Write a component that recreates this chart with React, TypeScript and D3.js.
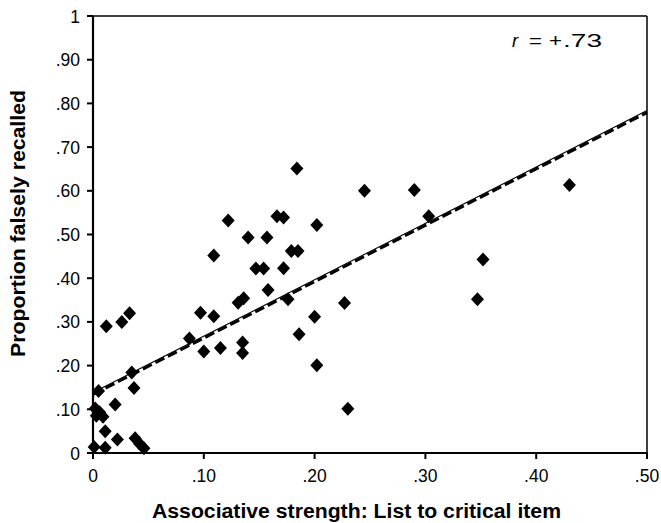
import React from "react";
import * as d3 from "d3";

const strength = [
  0.012, 0.026, 0.033, 0.097, 0.087, 0.1, 0.035, 0.037, 0.005, 0.02, 0.002,
  0.003, 0.009, 0.006, 0.011, 0.022, 0.038, 0.042, 0.046, 0.001, 0.011, 0.109,
  0.115, 0.131, 0.136, 0.135, 0.135, 0.158, 0.122, 0.14, 0.157, 0.109, 0.147,
  0.154, 0.166, 0.172, 0.184, 0.245, 0.202, 0.179, 0.185, 0.172, 0.176, 0.227,
  0.2, 0.186, 0.202, 0.23, 0.29, 0.303, 0.43, 0.352, 0.347,
];
const falseRecall = [
  0.29, 0.3, 0.32, 0.321, 0.262, 0.232, 0.184, 0.149, 0.142, 0.111, 0.102,
  0.085, 0.083, 0.093, 0.05, 0.031, 0.034, 0.021, 0.011, 0.014, 0.012, 0.313,
  0.24, 0.344, 0.354, 0.253, 0.229, 0.373, 0.532, 0.493, 0.493, 0.452, 0.422,
  0.422, 0.542, 0.539, 0.651, 0.6, 0.522, 0.462, 0.462, 0.423, 0.352, 0.343,
  0.312, 0.272, 0.201, 0.101, 0.602, 0.542, 0.613, 0.443, 0.352,
];
const xTicks = [0, 0.1, 0.2, 0.3, 0.4, 0.5];
const xTickLabels = ["0", ".10", ".20", ".30", ".40", ".50"];
const yTicks = [0, 0.1, 0.2, 0.3, 0.4, 0.5, 0.6, 0.7, 0.8, 0.9, 1];
const yTickLabels = ["0", ".10", ".20", ".30", ".40", ".50", ".60", ".70", ".80", ".90", "1"];
const fitIntercept = 0.134;
const fitSlope = 1.29;
const fitDomain = [0, 0.5];

const W = 661;
const H = 523;
const left = 93;
const right = 647;
const top = 16;
const bottom = 453;
const font = "'Liberation Sans', Arial, sans-serif";

export default function App() {
  const x = d3.scaleLinear().domain([0, 0.5]).range([left, right]);
  const y = d3.scaleLinear().domain([0, 1]).range([bottom, top]);
  const fitPts: [number, number][] = fitDomain.map((v) => [x(v), y(fitIntercept + fitSlope * v)]);
  const line = d3.line();
  const fitPath = line(fitPts) || "";
  const solidPath = line(fitPts.map(([a, b]) => [a, b - 2] as [number, number])) || "";

  return (
    <svg
      width={W}
      height={H}
      style={{ position: "absolute", left: 0, top: 0, background: "#fff" }}
      fontFamily={font}
    >
      <rect x={0} y={0} width={W} height={H} fill="#fff" />
      {/* frame */}
      <line x1={left} x2={right} y1={top} y2={top} stroke="#000" strokeWidth={1.5} />
      <line x1={right} x2={right} y1={top} y2={bottom} stroke="#000" strokeWidth={1.5} />
      {/* regression lines */}
      <path d={solidPath} stroke="#000" strokeWidth={1.1} fill="none" />
      <path d={fitPath} stroke="#000" strokeWidth={3} strokeDasharray="10,4" fill="none" />
      {/* points */}
      {strength.map((s, i) => {
        const cx = x(s);
        const cy = y(falseRecall[i]);
        return (
          <path
            key={i}
            d={`M${cx},${cy - 7}L${cx + 6.5},${cy}L${cx},${cy + 7}L${cx - 6.5},${cy}Z`}
            fill="#000"
          />
        );
      })}
      {/* axes */}
      <line x1={left} x2={left} y1={top} y2={bottom + 1} stroke="#000" strokeWidth={2.2} />
      <line x1={left - 1} x2={right + 0.75} y1={bottom} y2={bottom} stroke="#000" strokeWidth={2.2} />
      {yTicks.map((t, i) => (
        <g key={"y" + i}>
          <line x1={left - 6} x2={left} y1={y(t)} y2={y(t)} stroke="#000" strokeWidth={2} />
          <text x={80} y={y(t) + 6.5} textAnchor="end" fontSize={17.5} fill="#000">
            {yTickLabels[i]}
          </text>
        </g>
      ))}
      {xTicks.map((t, i) => (
        <g key={"x" + i}>
          <line x1={x(t)} x2={x(t)} y1={bottom} y2={bottom + 6} stroke="#000" strokeWidth={2} />
          <text x={x(t)} y={482} textAnchor="middle" fontSize={17.5} fill="#000">
            {xTickLabels[i]}
          </text>
        </g>
      ))}
      <text
        x={152}
        y={518}
        fontSize={20}
        fontWeight="bold"
        fill="#000"
        textLength={409}
        lengthAdjust="spacingAndGlyphs"
      >
        Associative strength: List to critical item
      </text>
      <text
        transform={`translate(25,357) rotate(-90)`}
        fontSize={20}
        fontWeight="bold"
        fill="#000"
        textLength={267}
        lengthAdjust="spacingAndGlyphs"
      >
        Proportion falsely recalled
      </text>
      <text y={47} fontSize={18.5} fill="#000">
        <tspan x={512} fontStyle="italic">r</tspan>
        <tspan x={529} textLength={13} lengthAdjust="spacingAndGlyphs">=</tspan>
        <tspan x={549} textLength={13} lengthAdjust="spacingAndGlyphs">+</tspan>
        <tspan x={563} textLength={39} lengthAdjust="spacingAndGlyphs">.73</tspan>
      </text>
    </svg>
  );
}
